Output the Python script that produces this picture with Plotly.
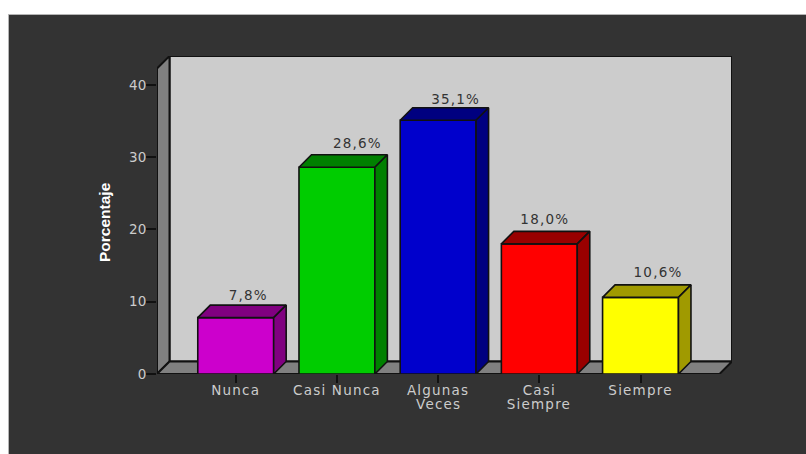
import plotly.graph_objects as go

first_lines = ["Nunca", "Casi Nunca", "Algunas", "Casi", "Siempre"]
second_lines = ["", "", "Veces", "Siempre", ""]
values = [7.8, 28.6, 35.1, 18.0, 10.6]
value_labels = ["7,8%", "28,6%", "35,1%", "18,0%", "10,6%"]
front_colors = ["#cc00cc", "#00cc00", "#0000cc", "#ff0000", "#ffff00"]
shade_colors = ["#800080", "#008000", "#000080", "#990000", "#a09a00"]
y_ticks = [0, 10, 20, 30, 40]

WIDTH, HEIGHT = 806, 454
LEFT, RIGHT, TOP, BOTTOM = 157, 732, 56, 374
X_RANGE = [-0.778, 4.904]
Y_RANGE = [0, 43.98]
BAR_WIDTH = 0.75
DEPTH_X = 0.1235   # horizontal offset of the 3D depth, in category units
DEPTH_Y = 1.73     # vertical offset of the 3D depth, in value units
X_FRONT_MIN = X_RANGE[0]
X_FRONT_MAX = X_RANGE[1] - DEPTH_X
Y_FRONT_MAX = Y_RANGE[1] - DEPTH_Y
OUTLINE = "#111111"
LABEL_FONT = "DejaVu Sans"
LABEL_SIZE = 13.5
DARK = "#333333"
LIGHT = "#cccccc"

# Nudge of each value label from the back edge of its bar, in pixels (right, up)
label_nudges = [(0, 2), (8, 3), (5, 0), (-7, 4), (5, 4)]
PX_PER_X = (RIGHT - LEFT) / (X_RANGE[1] - X_RANGE[0])
PX_PER_Y = (BOTTOM - TOP) / (Y_RANGE[1] - Y_RANGE[0])


def paper_x(px):
    return (px - LEFT) / (RIGHT - LEFT)


def paper_y(py):
    return (BOTTOM - py) / (BOTTOM - TOP)


def path(points):
    return "M " + " L ".join(f"{x},{y}" for x, y in points) + " Z"


def wall(points, color):
    return dict(type="path", xref="x", yref="y", layer="below", path=path(points),
                fillcolor=color, line=dict(color=OUTLINE, width=2))


x_positions = list(range(len(values)))
fig = go.Figure()

# Front faces of the bars
fig.add_trace(go.Bar(
    x=x_positions, y=values, width=BAR_WIDTH, cliponaxis=False, hoverinfo="skip",
    marker=dict(color=front_colors, line=dict(color=OUTLINE, width=1.6)),
    showlegend=False,
))

# Top and right faces of each bar, offset from its front face by the depth
for i, (v, shade) in enumerate(zip(values, shade_colors)):
    x0, x1 = i - BAR_WIDTH / 2, i + BAR_WIDTH / 2
    top_x = [x0, x0 + DEPTH_X, x1 + DEPTH_X, x1, x0]
    top_y = [v, v + DEPTH_Y, v + DEPTH_Y, v, v]
    side_x = [x1, x1 + DEPTH_X, x1 + DEPTH_X, x1, x1]
    side_y = [v, v + DEPTH_Y, DEPTH_Y, 0, v]
    for xs, ys in ((top_x, top_y), (side_x, side_y)):
        fig.add_trace(go.Scatter(
            x=xs, y=ys, mode="lines", fill="toself", fillcolor=shade,
            line=dict(color=OUTLINE, width=1.6), cliponaxis=False,
            hoverinfo="skip", showlegend=False,
        ))

# Value labels, sitting above the back edge of each bar
fig.add_trace(go.Scatter(
    x=[i + DEPTH_X + dx / PX_PER_X for i, (dx, _) in zip(x_positions, label_nudges)],
    y=[v + DEPTH_Y + dy / PX_PER_Y for v, (_, dy) in zip(values, label_nudges)],
    mode="text", text=value_labels, textposition="top center",
    textfont=dict(family=LABEL_FONT, size=LABEL_SIZE, color=DARK),
    cliponaxis=False, hoverinfo="skip", showlegend=False,
))

shapes = [
    # Dark panel behind the chart
    dict(type="rect", xref="paper", yref="paper", layer="below",
         x0=paper_x(8.5), x1=paper_x(WIDTH + 5), y0=paper_y(14.5), y1=paper_y(HEIGHT + 5),
         fillcolor=DARK, line=dict(color="#b5b5b5", width=1)),
    # Back wall, side wall and floor
    wall([(X_FRONT_MIN + DEPTH_X, DEPTH_Y), (X_RANGE[1], DEPTH_Y), (X_RANGE[1], Y_RANGE[1]),
          (X_FRONT_MIN + DEPTH_X, Y_RANGE[1])], LIGHT),
    wall([(X_FRONT_MIN, 0), (X_FRONT_MIN + DEPTH_X, DEPTH_Y), (X_FRONT_MIN + DEPTH_X, Y_RANGE[1]),
          (X_FRONT_MIN, Y_FRONT_MAX)], "#808080"),
    wall([(X_FRONT_MIN, 0), (X_FRONT_MAX, 0), (X_RANGE[1], DEPTH_Y),
          (X_FRONT_MIN + DEPTH_X, DEPTH_Y)], "#808080"),
]

# Second lines of the wrapped category labels
annotations = [
    dict(x=i, xref="x", y=paper_y(404), yref="paper", text=t, showarrow=False,
         xanchor="center", yanchor="middle",
         font=dict(family=LABEL_FONT, size=LABEL_SIZE, color=LIGHT))
    for i, t in enumerate(second_lines) if t
]

# Axis title, placed by hand so that it can sit off the centre of the plot
annotations.append(dict(
    x=paper_x(104), xref="paper", y=paper_y(222), yref="paper", text="<b>Porcentaje</b>",
    textangle=-90, showarrow=False, xanchor="center", yanchor="middle",
    font=dict(family="Liberation Sans", size=15.5, color="#ffffff"),
))

fig.update_layout(
    width=WIDTH, height=HEIGHT, autosize=False,
    margin=dict(l=LEFT, r=WIDTH - RIGHT, t=TOP, b=HEIGHT - BOTTOM, pad=0),
    paper_bgcolor="#ffffff", plot_bgcolor="rgba(0,0,0,0)",
    shapes=shapes, annotations=annotations, showlegend=False,
    xaxis=dict(
        range=X_RANGE, tickmode="array", tickvals=x_positions, ticktext=first_lines,
        ticks="outside", ticklen=8, tickwidth=1.5, tickcolor=OUTLINE, ticklabelstandoff=-4,
        tickfont=dict(family=LABEL_FONT, size=LABEL_SIZE, color=LIGHT),
        showgrid=False, zeroline=False, showline=False,
    ),
    yaxis=dict(
        range=Y_RANGE, tickmode="array", tickvals=y_ticks,
        ticks="outside", ticklen=10, tickwidth=1.5, tickcolor=OUTLINE, ticklabelstandoff=-3,
        tickfont=dict(family=LABEL_FONT, size=LABEL_SIZE, color=LIGHT),
        showgrid=False, zeroline=False, showline=False,
    ),
)

# The category and value labels are set with slightly open tracking
tracking = """
document.querySelectorAll('.xtick text, .textpoint text, .annotation-text').forEach(function (t) {
    if (t.textContent.indexOf('Porcentaje') < 0) { t.style.letterSpacing = '1.2px'; }
});
"""

fig.write_html("out.html", config=dict(displayModeBar=False), post_script=tracking)
